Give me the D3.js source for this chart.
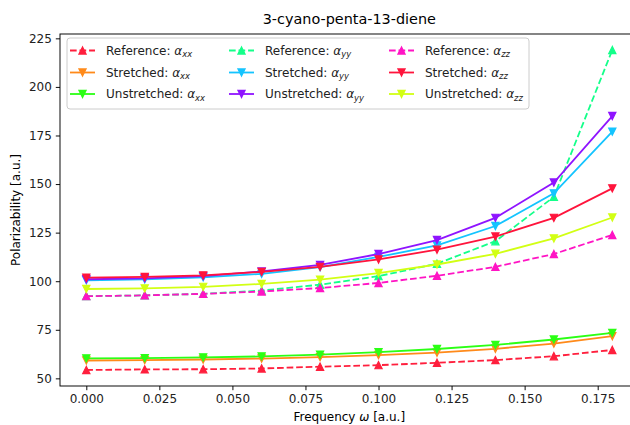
<!DOCTYPE html>
<html>
<head>
<meta charset="utf-8">
<script src="https://cdn.jsdelivr.net/npm/d3@7"></script>
<style>
  body { margin: 0; background: #fff; }
  svg { font-family: "DejaVu Sans", sans-serif; }
</style>
</head>
<body>
<svg id="chart" width="630" height="425"></svg>
<script>
// Frecuencias (eje x)
const frecuencias = [0, 0.02, 0.04, 0.06, 0.08, 0.10, 0.12, 0.14, 0.16, 0.18];

// Polarizabilidades
const refXX = [54.3, 54.6, 54.7, 55.1, 56.0, 56.8, 58.0, 59.4, 61.4, 64.6];
const strXX = [59.2, 59.4, 59.7, 60.2, 60.9, 62.0, 63.2, 65.2, 67.9, 71.7];
const unsXX = [60.3, 60.4, 60.8, 61.3, 62.2, 63.5, 65.1, 67.2, 70.0, 73.4];
const refYY = [92.3, 92.7, 93.5, 95.2, 98.2, 102.6, 109.0, 120.6, 143.4, 219.0];
const strYY = [100.5, 101.0, 102.0, 103.8, 107.2, 112.5, 118.4, 128.4, 145.2, 177.0];
const unsYY = [101.0, 101.5, 102.6, 105.0, 108.4, 114.0, 121.2, 132.6, 150.8, 185.0];
const refZZ = [92.3, 92.7, 93.5, 94.7, 96.5, 99.1, 102.8, 107.4, 114.0, 123.8];
const strZZ = [101.8, 102.2, 103.0, 104.8, 107.4, 111.2, 116.2, 123.0, 132.6, 147.8];
const unsZZ = [96.0, 96.3, 97.1, 98.6, 100.8, 104.2, 108.6, 114.1, 122.0, 132.8];

const tickX = [0, 0.025, 0.05, 0.075, 0.10, 0.125, 0.15, 0.175];
const tickY = [50, 75, 100, 125, 150, 175, 200, 225];

// Orden de la leyenda (por columnas)
const series = [
  { etiqueta: "Reference: ", sub: "xx", valores: refXX, color: "#ff1f3d", ref: true },
  { etiqueta: "Stretched: ", sub: "xx", valores: strXX, color: "#ff8a1a", ref: false },
  { etiqueta: "Unstretched: ", sub: "xx", valores: unsXX, color: "#2bff14", ref: false },
  { etiqueta: "Reference: ", sub: "yy", valores: refYY, color: "#14ff8a", ref: true },
  { etiqueta: "Stretched: ", sub: "yy", valores: strYY, color: "#14c4ff", ref: false },
  { etiqueta: "Unstretched: ", sub: "yy", valores: unsYY, color: "#8f14ff", ref: false },
  { etiqueta: "Reference: ", sub: "zz", valores: refZZ, color: "#ff14c4", ref: true },
  { etiqueta: "Stretched: ", sub: "zz", valores: strZZ, color: "#ff143c", ref: false },
  { etiqueta: "Unstretched: ", sub: "zz", valores: unsZZ, color: "#d2ff14", ref: false }
];

const svg = d3.select("#chart");
const margin = { left: 60, right: 638.6, top: 34, bottom: 386 };
const guion = "6.66,2.88";

// Márgenes del 5% como matplotlib
const xMin = d3.min(frecuencias), xMax = d3.max(frecuencias);
const xPad = (xMax - xMin) * 0.05;
const todos = series.flatMap(s => s.valores);
const yMin = d3.min(todos), yMax = d3.max(todos);
const yPad = (yMax - yMin) * 0.05;

const x = d3.scaleLinear().domain([xMin - xPad, xMax + xPad]).range([margin.left, margin.right]);
const y = d3.scaleLinear().domain([yMin - yPad, yMax + yPad]).range([margin.bottom, margin.top]);

const triUp = "M0,-3.6L-3.6,3.6L3.6,3.6Z";
const triDown = "M0,3.6L-3.6,-3.6L3.6,-3.6Z";

// Líneas
series.forEach(s => {
  const linea = d3.line()
    .x((d, i) => x(frecuencias[i]))
    .y(d => y(d));
  svg.append("path")
    .datum(s.valores)
    .attr("fill", "none")
    .attr("stroke", s.color)
    .attr("stroke-width", 1.8)
    .attr("stroke-dasharray", s.ref ? guion : null)
    .attr("d", linea);
  svg.append("g").selectAll("path")
    .data(s.valores)
    .join("path")
    .attr("transform", (d, i) => `translate(${x(frecuencias[i])},${y(d)})`)
    .attr("d", s.ref ? triUp : triDown)
    .attr("fill", s.color)
    .attr("stroke", s.color)
    .attr("stroke-width", 1.2);
});

// Ejes
const ejeX = svg.append("g")
  .attr("transform", `translate(0,${margin.bottom})`)
  .call(d3.axisBottom(x).tickValues(tickX).tickFormat(d3.format(".3f")).tickSize(4.2).tickPadding(4));
const ejeY = svg.append("g")
  .attr("transform", `translate(${margin.left},0)`)
  .call(d3.axisLeft(y).tickValues(tickY).tickFormat(d3.format("d")).tickSize(4.2).tickPadding(4));

[ejeX, ejeY].forEach(g => {
  g.select(".domain").remove();
  g.selectAll("line").attr("stroke", "#000").attr("stroke-width", 0.96);
  g.selectAll("text").attr("fill", "#222").style("font-size", "12px").style("font-family", "DejaVu Sans");
});

// Marco
svg.append("rect")
  .attr("x", margin.left).attr("y", margin.top)
  .attr("width", margin.right - margin.left)
  .attr("height", margin.bottom - margin.top)
  .attr("fill", "none")
  .attr("stroke", "#000")
  .attr("stroke-width", 0.96);

// Títulos
const cx = (margin.left + margin.right) / 2;
svg.append("text")
  .attr("x", cx).attr("y", 24)
  .attr("text-anchor", "middle")
  .style("font-size", "14.4px")
  .text("3-cyano-penta-13-diene");

const xl = svg.append("text")
  .attr("x", cx).attr("y", 421)
  .attr("text-anchor", "middle")
  .style("font-size", "12px");
xl.append("tspan").text("Frequency ");
xl.append("tspan").style("font-style", "italic").text("ω");
xl.append("tspan").text(" [a.u.]");

svg.append("text")
  .attr("transform", `translate(20,${(margin.top + margin.bottom) / 2}) rotate(-90)`)
  .attr("text-anchor", "middle")
  .style("font-size", "12px")
  .text("Polarizability [a.u.]");

// Leyenda
const leyenda = svg.append("g");
leyenda.append("rect")
  .attr("x", 67).attr("y", 38)
  .attr("width", 462).attr("height", 71)
  .attr("rx", 3)
  .attr("fill", "#fff").attr("fill-opacity", 0.8)
  .attr("stroke", "#cccccc").attr("stroke-width", 1);

const colX = [70, 229, 389];
const filaY = [50.5, 72.5, 94];

series.forEach((s, i) => {
  const col = Math.floor(i / 3), fila = i % 3;
  const g = leyenda.append("g").attr("transform", `translate(${colX[col]},${filaY[fila]})`);
  g.append("line")
    .attr("x1", 0).attr("x2", 25)
    .attr("stroke", s.color)
    .attr("stroke-width", 1.8)
    .attr("stroke-dasharray", s.ref ? guion : null);
  g.append("path")
    .attr("transform", "translate(12.5,0)")
    .attr("d", s.ref ? triUp : triDown)
    .attr("fill", s.color).attr("stroke", s.color).attr("stroke-width", 1.2);
  const t = g.append("text")
    .attr("x", 36).attr("y", 4.3)
    .attr("fill", "#222")
    .style("font-size", "12px");
  t.append("tspan").text(s.etiqueta);
  t.append("tspan").style("font-style", "italic").text("α");
  t.append("tspan").style("font-style", "italic").style("font-size", "8.4px")
    .attr("dy", 2.5).text(s.sub);
});
</script>
</body>
</html>
